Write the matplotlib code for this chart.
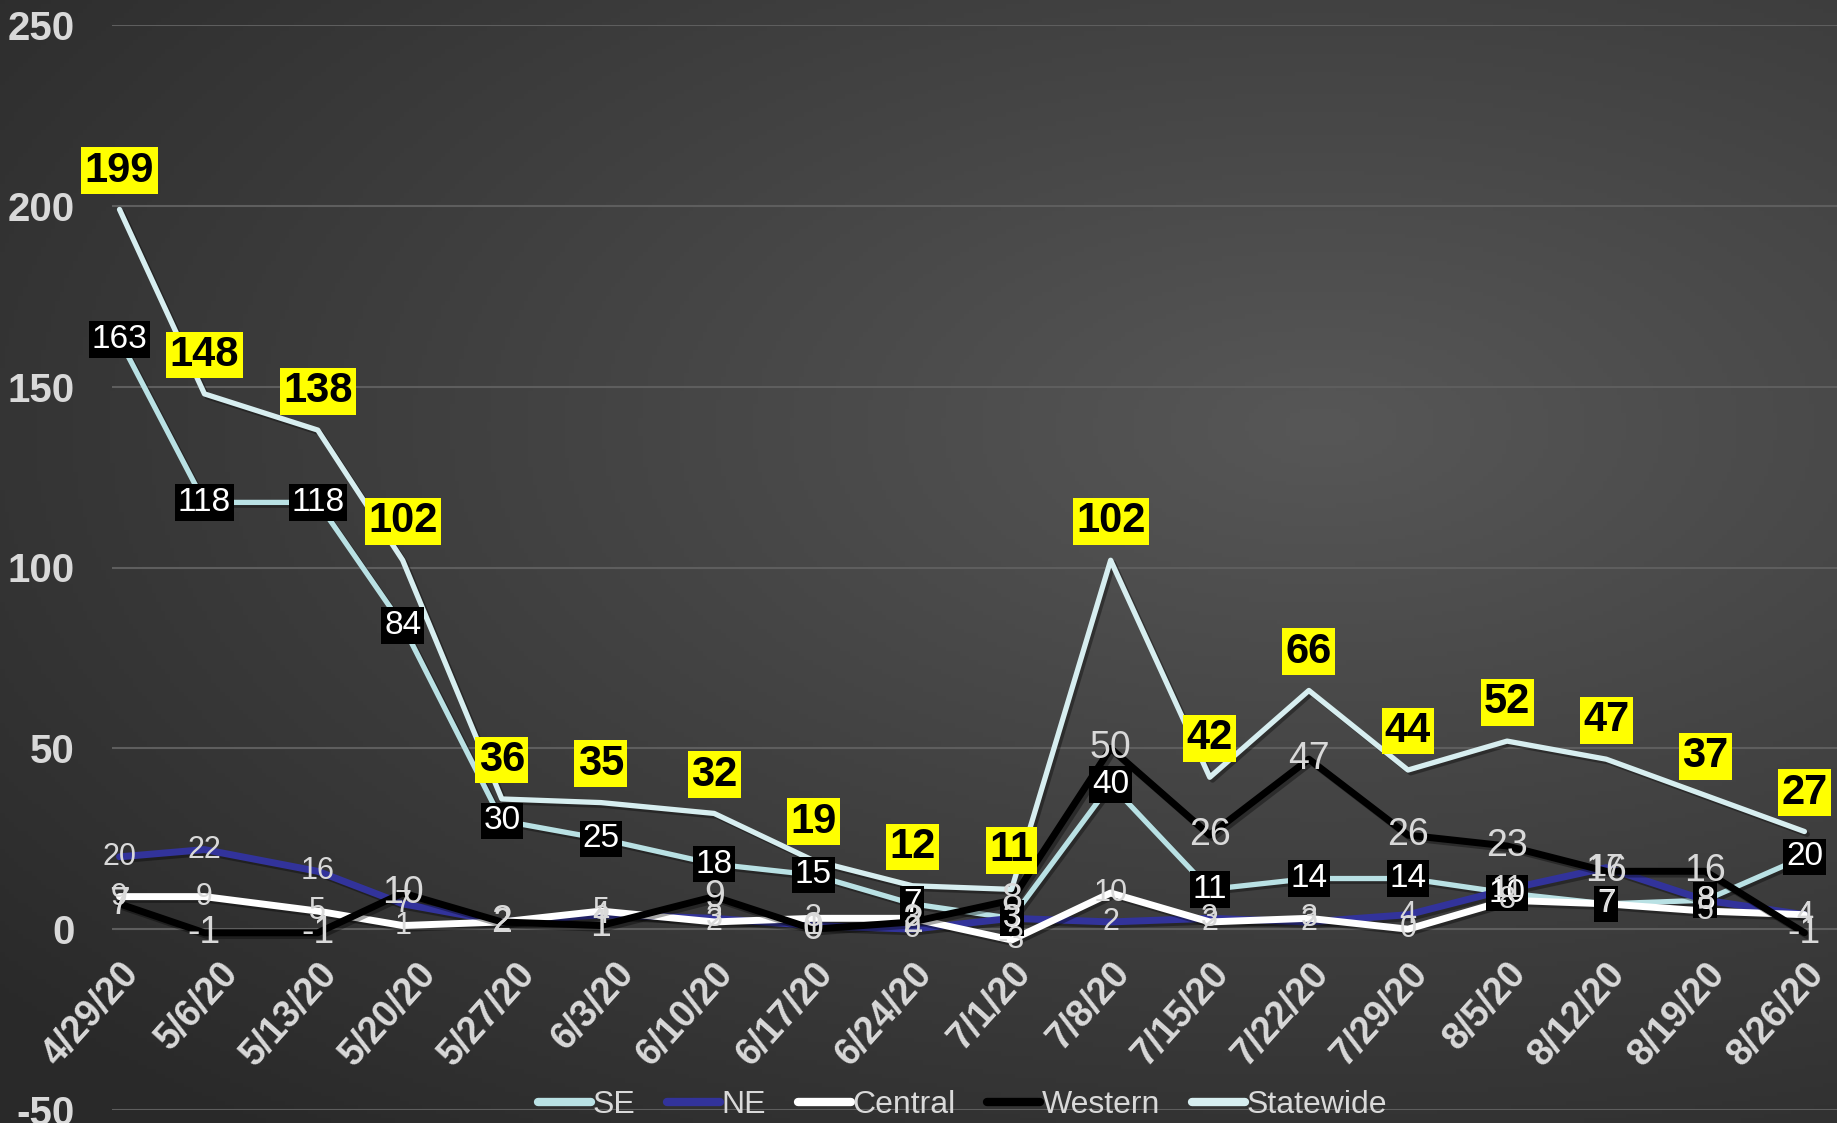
import numpy as np
import matplotlib
matplotlib.use("Agg")
import matplotlib.pyplot as plt
import matplotlib.patheffects as pe
import matplotlib.transforms as mtransforms

# data (date axis: days after 4/29/20)
days = [0, 6, 14, 20, 27, 34, 42, 49, 56, 63, 70, 77, 84, 91, 98, 105, 112, 119]
tick_days = [0, 7, 14, 21, 28, 35, 42, 49, 56, 63, 70, 77, 84, 91, 98, 105, 112, 119]
tick_labels = ['4/29/20', '5/6/20', '5/13/20', '5/20/20', '5/27/20', '6/3/20', '6/10/20',
               '6/17/20', '6/24/20', '7/1/20', '7/8/20', '7/15/20', '7/22/20', '7/29/20',
               '8/5/20', '8/12/20', '8/19/20', '8/26/20']
se = [163, 118, 118, 84, 30, 25, 18, 15, 7, 3, 40, 11, 14, 14, 10, 7, 8, 20]
ne = [20, 22, 16, 7, 2, 4, 3, 1, 0, 3, 2, 3, 2, 4, 11, 17, 8, 4]
central = [9, 9, 5, 1, 2, 5, 2, 3, 3, -3, 10, 2, 3, 0, 8, 7, 5, 4]
western = [7, -1, -1, 10, 2, 1, 9, 0, 2, 8, 50, 26, 47, 26, 23, 16, 16, -1]
statewide = [199, 148, 138, 102, 36, 35, 32, 19, 12, 11, 102, 42, 66, 44, 52, 47, 37, 27]

plt.rcParams['font.family'] = ['Liberation Sans', 'DejaVu Sans']
plt.rcParams['axes.unicode_minus'] = False

fig = plt.figure(figsize=(18.37, 11.23), dpi=100)

# dark radial background
bg = fig.add_axes([0, 0, 1, 1], zorder=-10)
gx, gy = np.meshgrid(np.linspace(0, 1, 400), np.linspace(0, 1, 250))
d = np.sqrt(((gx - 0.72) / 1.0) ** 2 + ((gy - 0.38) / 0.85) ** 2)
v = np.clip(1 - d / 0.95, 0, 1)
dark = np.array([0x29, 0x29, 0x29]) / 255
light = np.array([0x57, 0x57, 0x57]) / 255
img = dark + (light - dark) * v[..., None]
bg.imshow(img, aspect='auto', extent=[0, 1, 0, 1], origin='upper')
bg.axis('off')

ax = fig.add_axes([112 / 1837, 13 / 1123, 1 - 112 / 1837, (1110 - 25) / 1123])
ax.patch.set_alpha(0)
ax.spines['bottom'].set_position(('data', 0))
for s in ax.spines.values():
    s.set_visible(False)

shadow = [pe.SimpleLineShadow(offset=(2, -2), alpha=0.35, shadow_color='black'), pe.Normal()]
series = [
    ('SE', se, '#b9e1e4', 3.8),
    ('NE', ne, '#32339b', 5.0),
    ('Central', central, '#ffffff', 5.0),
    ('Western', western, '#000000', 5.0),
    ('Statewide', statewide, '#d7eef0', 3.8),
]
for i, (name, vals, col, lw) in enumerate(series):
    ax.plot(days, vals, color=col, lw=lw, label=name, zorder=3 + i,
            solid_capstyle='round', solid_joinstyle='round', path_effects=shadow)

# data labels
for xi, v_ in zip(days, se):
    ax.annotate(str(v_), (xi, v_), ha='center', va='center', fontsize=24, color='white',
                bbox=dict(boxstyle='square,pad=0.08', fc='black', ec='none'), zorder=10)
for xi, v_ in zip(days, ne):
    ax.annotate(str(v_), (xi, v_), ha='center', va='center', fontsize=22, color='#d9d9d9', zorder=11)
for xi, v_ in zip(days, central):
    ax.annotate(str(v_), (xi, v_), ha='center', va='center', fontsize=22, color='#d9d9d9', zorder=12)
for xi, v_ in zip(days, western):
    ax.annotate(str(v_), (xi, v_), ha='center', va='center', fontsize=27, color='#d9d9d9', zorder=13)
for xi, v_ in zip(days, statewide):
    ax.annotate(str(v_), (xi, v_), xytext=(0, 28), textcoords='offset points',
                ha='center', va='center', fontsize=30, fontweight='bold', color='black',
                bbox=dict(boxstyle='square,pad=0.08', fc='#ffff00', ec='none'), zorder=14)

ax.set_ylim(-50, 250)
ax.set_yticks(np.arange(-50, 251, 50))
ax.set_xlim(-0.53, 121.3)
ax.set_xticks(tick_days)
ax.set_xticklabels(tick_labels, rotation=48, ha='right', va='top', rotation_mode='anchor',
                   fontsize=27, fontweight='bold', color='#d9d9d9')
shift = mtransforms.ScaledTranslation(-11 / 72, 0, fig.dpi_scale_trans)
for lab in ax.get_xticklabels():
    lab.set_transform(lab.get_transform() + shift)
for lab in ax.get_yticklabels():
    lab.set_fontsize(29)
    lab.set_fontweight('bold')
    lab.set_color('#d9d9d9')
ax.tick_params(axis='y', length=0, pad=27)
ax.tick_params(axis='x', length=0, pad=19)
ax.grid(axis='y', color='#5e5e5e', lw=1.5, zorder=0)

leg = fig.legend(loc='center', bbox_to_anchor=(0.524, 0.016), ncol=5, frameon=False,
                 handlelength=1.65, handletextpad=0.05, columnspacing=1.0,
                 prop={'family': ['Liberation Sans'], 'size': 23})
for t in leg.get_texts():
    t.set_color('#d9d9d9')
for h in leg.get_lines():
    h.set_path_effects([])
    h.set_linewidth(6)
    h.set_solid_capstyle('round')

fig.savefig('out.png', dpi=100)
